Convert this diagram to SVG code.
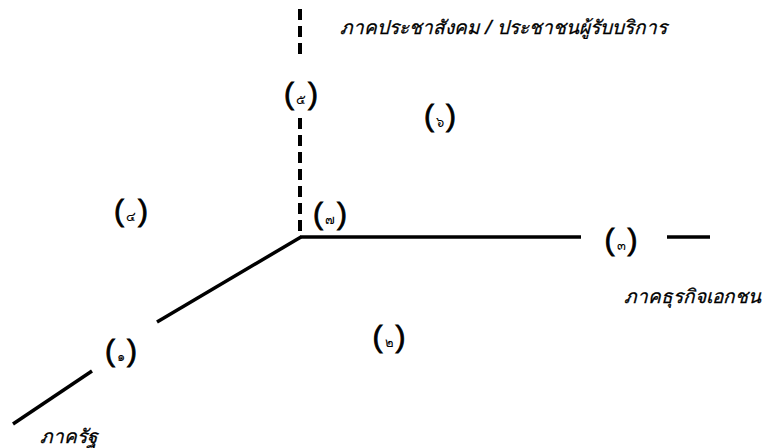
<svg xmlns="http://www.w3.org/2000/svg" width="767" height="448" viewBox="0 0 767 448">
<style>
.ln{stroke:#000;stroke-width:3.5;fill:none}
.dash{stroke:#000;stroke-width:4;fill:none;stroke-dasharray:11 6}
.lbl{font-family:"Noto Sans","Liberation Sans",sans-serif;font-style:italic;font-size:19px;fill:#000;stroke:#000;stroke-width:0.3}
.num{font-family:"Liberation Sans","Noto Sans",sans-serif;fill:#000;text-anchor:middle}
.p{font-size:30px;font-family:"Liberation Sans",sans-serif;stroke:#000;stroke-width:0.8}
.d{font-size:13px}
</style>
<rect width="767" height="448" fill="#fff"/>
<g id="connectors">
<line class="dash" x1="300" y1="9" x2="300" y2="55"/>
<line class="dash" x1="300" y1="118" x2="300" y2="236"/>
<line class="ln" x1="300" y1="237" x2="581" y2="237"/>
<line class="ln" x1="667" y1="237" x2="710" y2="237"/>
<line class="ln" x1="301" y1="237" x2="157" y2="322"/>
<line class="ln" x1="92" y1="371" x2="13" y2="424"/>
</g>
<g id="label-civil"><text class="lbl" x="340" y="34">ภาคประชาสังคม / ประชาชนผู้รับบริการ</text></g>
<g id="label-business"><text class="lbl" x="624" y="303">ภาคธุรกิจเอกชน</text></g>
<g id="label-state"><text class="lbl" x="40" y="443">ภาครัฐ</text></g>
<g id="n5"><text class="num" x="301" y="104"><tspan class="p">(</tspan><tspan class="d" dx="2">๕</tspan><tspan class="p" dx="2">)</tspan></text></g>
<g id="n6"><text class="num" x="440" y="126"><tspan class="p">(</tspan><tspan class="d" dx="2">๖</tspan><tspan class="p" dx="2">)</tspan></text></g>
<g id="n4"><text class="num" x="131" y="221"><tspan class="p">(</tspan><tspan class="d" dx="2">๔</tspan><tspan class="p" dx="2">)</tspan></text></g>
<g id="n7"><text class="num" x="330" y="224"><tspan class="p">(</tspan><tspan class="d" dx="2">๗</tspan><tspan class="p" dx="2">)</tspan></text></g>
<g id="n3"><text class="num" x="621" y="250"><tspan class="p">(</tspan><tspan class="d" dx="2">๓</tspan><tspan class="p" dx="2">)</tspan></text></g>
<g id="n2"><text class="num" x="389" y="347"><tspan class="p">(</tspan><tspan class="d" dx="2">๒</tspan><tspan class="p" dx="2">)</tspan></text></g>
<g id="n1"><text class="num" x="121" y="361"><tspan class="p">(</tspan><tspan class="d" dx="2">๑</tspan><tspan class="p" dx="2">)</tspan></text></g>
</svg>
